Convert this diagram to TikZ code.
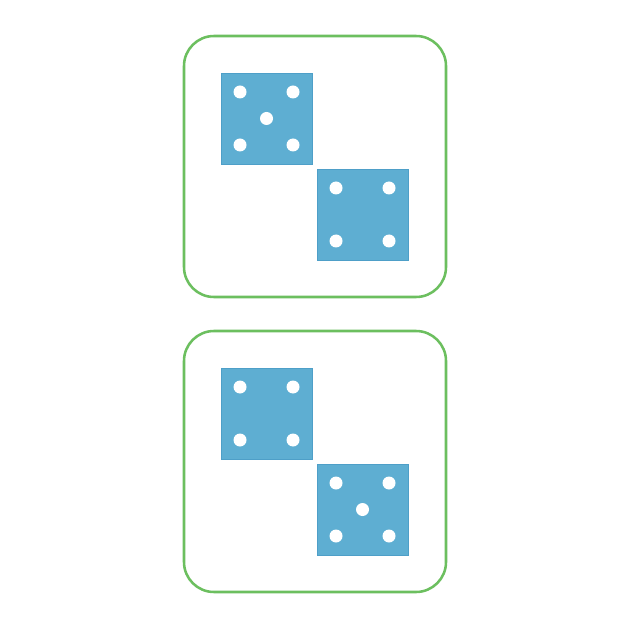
\documentclass[tikz,border=0pt]{standalone}
\definecolor{dieblue}{HTML}{5EAED2}
\definecolor{dieedge}{HTML}{4E9FC8}
\definecolor{boxgreen}{HTML}{6CBF5F}
\tikzset{
  px/.style={x=0.75pt,y=-0.75pt},
  outerbox/.style={draw=boxgreen,line width=1.9pt,rounded corners=22.5pt},
  diebox/.style={fill=dieblue,draw=dieedge,line width=0.4pt},
  pip/.style={fill=white,draw=none}
}
\begin{document}
\begin{tikzpicture}[px]
\useasboundingbox (0,0) rectangle (630,630);
% upper box
\draw[outerbox] (184,36) rectangle (446,297);
\path[diebox] (221,73) rectangle (312,164);
\foreach \p in {(240,92),(293,92),(266.5,118.5),(240,145),(293,145)} \fill[pip] \p circle (6.5);
\path[diebox] (317,169) rectangle (408,260);
\foreach \p in {(336,188),(389,188),(336,241),(389,241)} \fill[pip] \p circle (6.5);
% lower box
\draw[outerbox] (184,331) rectangle (446,592);
\path[diebox] (221,368) rectangle (312,459);
\foreach \p in {(240,387),(293,387),(240,440),(293,440)} \fill[pip] \p circle (6.5);
\path[diebox] (317,464) rectangle (408,555);
\foreach \p in {(336,483),(389,483),(362.5,509.5),(336,536),(389,536)} \fill[pip] \p circle (6.5);
\end{tikzpicture}
\end{document}
